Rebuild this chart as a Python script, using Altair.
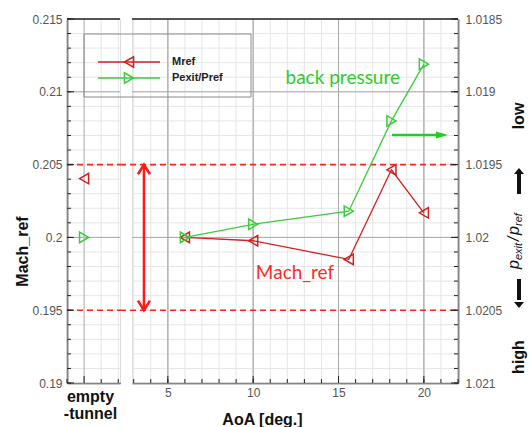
import altair as alt
import pandas as pd

# ---------------- data ----------------
AOA = [6, 10, 15.6, 18.1, 20]
MREF = [0.2000, 0.19977, 0.19849, 0.20464, 0.20169]
PEXIT = [1.0200, 1.01991, 1.01982, 1.0192, 1.01881]
EMPTY_SLOT = [1]
EMPTY_MREF = [0.20404]
EMPTY_PEXIT = [1.0200]
EMPTY_LABEL = ["empty", "-tunnel"]
SERIES = ["Mref", "Pexit/Pref"]
X_MAJOR = [5, 10, 15, 20]
X_MINOR = list(range(3, 23))
SLOT_MINOR = [0, 2, 3]
Y_MAJOR = [0.19, 0.195, 0.2, 0.205, 0.21, 0.215]
Y_MINOR = [round(0.19 + i / 1000, 3) for i in range(26)]
P_TICKS = [1.0185, 1.019, 1.0195, 1.02, 1.0205, 1.021]
BAND = [0.195, 0.205]
RANGE_ARROW_AOA = [3.6]
BP_ARROW = [18.13, 21.41]
BP_ARROW_Y = [0.20703]
MACH_TXT = [12.45, 0.19755]
BP_TXT = [15.25, 0.21095]

RED = "#d02020"
GREEN = "#3ccc3c"
DRED = "#ff2222"
AXC = "#222222"
FONT = "Liberation Sans"

W, H, LW = 326, 364, 53

xs = alt.Scale(domain=[2.9, 22], nice=False, zero=False)
xl = alt.Scale(domain=[0, 3.1], nice=False, zero=False)
ys = alt.Scale(domain=[0.19, 0.215], nice=False, zero=False)
ps = alt.Scale(domain=[1.0185, 1.021], reverse=True, nice=False, zero=False)

one = pd.DataFrame({"k": [0]})


def df(**kw):
    return pd.DataFrame(kw)


# axes (the same object is given to every layer sharing the scale)
AX_MAIN_X = alt.Axis(values=X_MAJOR, ticks=False, grid=False, domainColor=AXC, domainWidth=1.6,
                     labelPadding=4, labelFont=FONT, labelFontSize=12, labelColor="#555",
                     title="AoA [deg.]", titleX=130, titleY=36, titleBaseline="middle",
                     titleFont=FONT, titleFontSize=16, titleFontWeight="bold", titleColor="#111")
AX_LEFT_Y = alt.Axis(values=Y_MAJOR, format="~g", ticks=False, grid=False, domainColor=AXC,
                     domainWidth=1.6, labelPadding=5, labelFont=FONT, labelFontSize=12,
                     labelColor="#555", title="Mach_ref", titleX=-45, titleY=232,
                     titleAngle=270, titleBaseline="middle", titleAlign="center",
                     titleFont=FONT, titleFontSize=16, titleFontWeight="bold", titleColor="#111")
AX_LEFT_X = alt.Axis(labels=False, ticks=False, grid=False, domainColor=AXC, domainWidth=1.6,
                     title=EMPTY_LABEL, titleX=23, titleY=5, titleBaseline="top",
                     titleLineHeight=17, titleFont=FONT, titleFontSize=16,
                     titleFontWeight="bold", titleColor="#111")
AX_RIGHT_P = alt.Axis(orient="right", values=P_TICKS, format="~g", ticks=False, grid=False,
                      domainColor=AXC, domainWidth=1.6, labelPadding=7, labelFont=FONT,
                      labelFontSize=12, labelColor="#555", title=None)


def build_panel(xscale, xaxis, yaxis):
    X = lambda f: alt.X(f, scale=xscale, axis=xaxis)
    Y = lambda f: alt.Y(f, scale=ys, axis=yaxis)
    return X, Y


def grid_layers(X, Y, xminor, xmajor, wpx, band_x0, right_ticks):
    L = [
        alt.Chart(df(v=xminor)).mark_rule(color="#e6e6e6", strokeWidth=1).encode(x=X("v:Q")),
        alt.Chart(df(v=Y_MINOR)).mark_rule(color="#e6e6e6", strokeWidth=1).encode(y=Y("v:Q")),
        alt.Chart(df(v=xmajor)).mark_rule(color="#a8a8a8", strokeWidth=1).encode(x=X("v:Q")),
        alt.Chart(df(v=[0.2, 0.21])).mark_rule(color="#a8a8a8", strokeWidth=1).encode(y=Y("v:Q")),
        alt.Chart(df(v=BAND)).mark_rule(color=DRED, strokeWidth=1.6, strokeDash=[6, 4]).encode(
            y=Y("v:Q"), x=alt.value(band_x0), x2=alt.value(wpx)),
        alt.Chart(df(v=xminor)).mark_rule(color=AXC).encode(
            x=X("v:Q"), y=alt.value(H), y2=alt.value(H - 4)),
        alt.Chart(df(v=xmajor)).mark_rule(color=AXC).encode(
            x=X("v:Q"), y=alt.value(H), y2=alt.value(H - 7)),
        alt.Chart(one).mark_rule(color=AXC, strokeWidth=1.6).encode(
            x=alt.value(0), x2=alt.value(wpx), y=alt.value(0)),
    ]
    if right_ticks:
        x0, s = wpx, -1
    else:
        x0, s = 0, 1
    L += [
        alt.Chart(df(v=Y_MINOR)).mark_rule(color=AXC).encode(
            y=Y("v:Q"), x=alt.value(x0), x2=alt.value(x0 + 4 * s)),
        alt.Chart(df(v=Y_MAJOR)).mark_rule(color=AXC).encode(
            y=Y("v:Q"), x=alt.value(x0), x2=alt.value(x0 + 7 * s)),
    ]
    return L


# ---------------- main panel ----------------
X, Y = build_panel(xs, AX_MAIN_X, None)
dm = df(aoa=AOA, mref=MREF, pexit=PEXIT)

main_left = [
    alt.Chart(df(v=X_MAJOR)).mark_rule(color="#a8a8a8", strokeWidth=1).encode(x=X("v:Q")),
] + grid_layers(X, Y, X_MINOR, X_MAJOR, W, -12, True) + [
    alt.Chart(dm).mark_line(color=RED, strokeWidth=1.3).encode(x=X("aoa:Q"), y=Y("mref:Q")),
    alt.Chart(dm).mark_point(shape="triangle-left", filled=False, size=110, strokeWidth=1.5,
                             color=RED, opacity=1).encode(x=X("aoa:Q"), y=Y("mref:Q")),
    # Mach_ref range double arrow
    alt.Chart(df(a=RANGE_ARROW_AOA, y0=[BAND[1]], y1=[BAND[0]])).mark_rule(
        color="#ff1a1a", strokeWidth=2.5).encode(x=X("a:Q"), y=Y("y0:Q"), y2="y1:Q"),
    alt.Chart(df(a=RANGE_ARROW_AOA, y=[BAND[1]])).mark_point(
        shape="M-1,1.6L0,0L1,1.6", filled=False, size=144, strokeWidth=2.6, color="#ff1a1a",
        opacity=1).encode(x=X("a:Q"), y=Y("y:Q")),
    alt.Chart(df(a=RANGE_ARROW_AOA, y=[BAND[0]])).mark_point(
        shape="M-1,-1.6L0,0L1,-1.6", filled=False, size=144, strokeWidth=2.6, color="#ff1a1a",
        opacity=1).encode(x=X("a:Q"), y=Y("y:Q")),
    alt.Chart(df(a=[MACH_TXT[0]], y=[MACH_TXT[1]], t=["Mach_ref"])).mark_text(
        font="Lato", fontSize=19, color="#ff2a2a", baseline="middle", align="center").encode(
        x=X("a:Q"), y=Y("y:Q"), text="t:N"),
    alt.Chart(df(a=[BP_TXT[0]], y=[BP_TXT[1]], t=["back pressure"])).mark_text(
        font="Lato", fontSize=19, color="#2ecc2e", baseline="middle", align="center").encode(
        x=X("a:Q"), y=Y("y:Q"), text="t:N"),
    # back pressure arrow
    alt.Chart(df(a=[BP_ARROW[0]], b=[BP_ARROW[1] - 0.3], y=BP_ARROW_Y)).mark_rule(
        color="#22cc22", strokeWidth=2.5).encode(x=X("a:Q"), x2="b:Q", y=Y("y:Q")),
    alt.Chart(df(a=[BP_ARROW[1]], y=BP_ARROW_Y)).mark_point(
        shape="M-2.4,-0.7L0,0L-2.4,0.7Z", filled=True, size=100, color="#22cc22", opacity=1).encode(
        x=X("a:Q"), y=Y("y:Q")),
    # legend box
    alt.Chart(one).mark_rect(fill=None, stroke="#8a8a8a", strokeWidth=1).encode(
        x=alt.value(-48), x2=alt.value(119), y=alt.value(15), y2=alt.value(78)),
]

for i, (name, col, shp) in enumerate(zip(SERIES, [RED, GREEN], ["triangle-left", "triangle-right"])):
    yy = 43 + 16 * i
    main_left += [
        alt.Chart(one).mark_rule(color=col, strokeWidth=1.5).encode(
            x=alt.value(-34), x2=alt.value(28), y=alt.value(yy)),
        alt.Chart(one).mark_point(shape=shp, filled=False, size=110, strokeWidth=1.5, color=col,
                                  opacity=1).encode(x=alt.value(-3), y=alt.value(yy)),
        alt.Chart(df(t=[name])).mark_text(font=FONT, fontSize=11, fontWeight="bold", color="#222",
                                          align="left", baseline="middle").encode(
            x=alt.value(40), y=alt.value(yy), text="t:N"),
    ]

# right-hand side label: low  ^  p_exit/p_ref  v  high
RX = W + 61
side = [
    ("low", RX, 97, 16, "bold", "normal", "center"),
    ("high", RX, 338, 16, "bold", "normal", "center"),
    ("p", RX - 5, 250, 16, "normal", "italic", "left"),
    ("exit", RX, 241, 11, "normal", "italic", "left"),
    ("/", RX - 5, 222, 16, "normal", "italic", "left"),
    ("p", RX - 5, 216, 16, "normal", "italic", "left"),
    ("ref", RX, 207, 11, "normal", "italic", "left"),
]
for t, x, y, fs, fw, st, al in side:
    main_left.append(alt.Chart(df(t=[t])).mark_text(
        font=FONT, fontSize=fs, fontWeight=fw, fontStyle=st, angle=270, align=al,
        baseline="middle", color="#111").encode(x=alt.value(x), y=alt.value(y), text="t:N"))

for y0, y1, tip, shp in [(175, 154, 149, "M-1,1.2L0,0L1,1.2Z"), (260, 281, 289, "M-1,-1.2L0,0L1,-1.2Z")]:
    main_left += [
        alt.Chart(one).mark_rule(color="#111", strokeWidth=4).encode(
            x=alt.value(RX), y=alt.value(y0), y2=alt.value(y1)),
        alt.Chart(one).mark_point(shape=shp, filled=True, size=100, color="#111", opacity=1).encode(
            x=alt.value(RX), y=alt.value(tip)),
    ]

PY = lambda f: alt.Y(f, scale=ps, axis=AX_RIGHT_P)
main_right = alt.layer(
    alt.Chart(dm).mark_line(color=GREEN, strokeWidth=1.3).encode(x=X("aoa:Q"), y=PY("pexit:Q")),
    alt.Chart(dm).mark_point(shape="triangle-right", filled=False, size=110, strokeWidth=1.5,
                             color=GREEN, opacity=1).encode(x=X("aoa:Q"), y=PY("pexit:Q")),
)

main = alt.layer(alt.layer(*main_left), main_right).resolve_scale(y="independent").properties(
    width=W, height=H)

# ---------------- empty-tunnel panel ----------------
XL, YL = build_panel(xl, AX_LEFT_X, AX_LEFT_Y)
de = df(slot=EMPTY_SLOT, mref=EMPTY_MREF, pexit=EMPTY_PEXIT)

left_left = alt.layer(
    *grid_layers(XL, YL, SLOT_MINOR, EMPTY_SLOT, LW, 0, False),
    alt.Chart(de).mark_point(shape="triangle-left", filled=False, size=110, strokeWidth=1.5,
                             color=RED, opacity=1).encode(x=XL("slot:Q"), y=YL("mref:Q")),
)
left_right = alt.Chart(de).mark_point(shape="triangle-right", filled=False, size=110,
                                      strokeWidth=1.5, color=GREEN, opacity=1).encode(
    x=XL("slot:Q"), y=alt.Y("pexit:Q", scale=ps, axis=None))

left = alt.layer(left_left, left_right).resolve_scale(y="independent").properties(width=LW, height=H)

chart = alt.hconcat(left, main, spacing=12, bounds="flush").properties(
    padding={"left": 13, "top": 12, "right": 0, "bottom": 0}
).configure_view(stroke=None).configure(background="white")

chart.save("out.html", embed_options={"renderer": "svg", "actions": False})
